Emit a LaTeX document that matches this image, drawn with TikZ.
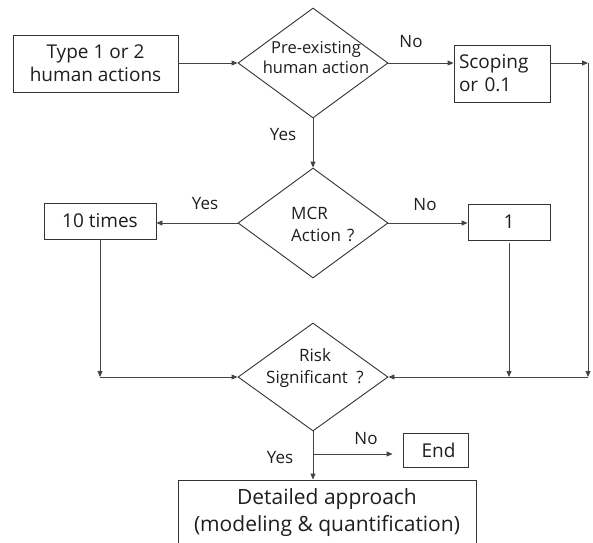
\documentclass[tikz,border=0pt]{standalone}
\usepackage{fontspec}
\setmainfont{Open Sans}
\usetikzlibrary{arrows.meta,shapes.geometric}

\definecolor{boxc}{HTML}{333333}
\definecolor{linec}{HTML}{444444}
\definecolor{txt}{HTML}{1E1E1E}

\tikzset{
  box/.style={draw=boxc, line width=0.9pt, inner sep=0pt, text=txt,
    font=\fontsize{19}{23}\selectfont, align=center},
  dia/.style={diamond, draw=boxc, line width=0.9pt, inner sep=0pt,
    minimum width=150pt, minimum height=110pt},
  dtext/.style={text=txt, inner sep=0pt, font=\fontsize{17}{22}\selectfont},
  arr/.style={draw=linec, line width=0.9pt, -{Triangle[length=6pt,width=5pt]}},
  lbl/.style={text=txt, inner sep=0pt, font=\fontsize{17}{20}\selectfont}
}

\begin{document}
\begin{tikzpicture}[x=1pt,y=-1pt]
\useasboundingbox (0,0) rectangle (593,542);
\clip (0,0) rectangle (593,542);

% process boxes
\node[box, minimum width=165pt, minimum height=57pt] (type) at (95.5,63.5)
  {Type 1 or 2\\human actions};
\node[box, minimum width=96pt, minimum height=57pt, text width=86pt, align=left]
  (scop) at (502,73.5) {Scoping\\or 0.1};
\node[box, minimum width=112pt, minimum height=36pt] (ten) at (100,221) {10 times};
\node[box, minimum width=82pt, minimum height=36pt] (one) at (509,222) {1};
\node[box, minimum width=65pt, minimum height=34pt] (endb) at (435.5,450) {\hspace*{6pt}End};
\node[box, minimum width=298pt, minimum height=66pt,
  font=\fontsize{21}{27}\selectfont] (det) at (327,513)
  {Detailed approach\\(modeling \& quantification)};

% decisions
\node[dia] (d1) at (313,63) {};
\node[dtext, align=center, font=\fontsize{16.5}{20}\selectfont] (t1) at (316,58) {Pre-existing\\human action};
\node[dia] (d2) at (313,223) {};
\node[dtext, align=left, anchor=west] (t2) at (291,224) {MCR\\Action\hspace{0.35em}?};
\node[dia, minimum height=108pt] (d3) at (313,377) {};
\node[dtext, align=center] (t3) at (315,368) {Risk\\Significant\hspace{0.5em}?};

% junction points
\coordinate (jn) at (0,377);
\coordinate (rTop) at (588,63);
\coordinate (rBot) at (588,377);
\coordinate (br) at (313,454);

% connectors
\draw[arr] (type.east |- d1.west) -- (d1.west);
\draw[arr] (d1.east) -- (d1.east -| scop.west);
\draw[arr] (scop.east |- rTop) -- (rTop);
\draw[arr] (rTop) -- (rBot);
\draw[arr] (rBot) -- (d3.east);
\draw[arr] (d1.south) -- (d2.north);
\draw[arr] (d2.west) -- (d2.west -| ten.east);
\draw[arr] (d2.east) -- (d2.east -| one.west);
\draw[arr] (ten.south) -- (ten.south |- jn);
\draw[arr] (ten.south |- jn) -- (d3.west);
\draw[arr, shorten <=3pt] (one.south) -- (one.south |- jn);
\draw[arr] (d3.south) -- (d3.south |- det.north);
\draw[arr, shorten >=10pt] (br) -- (br -| endb.west);

% branch labels
\node[lbl] (no1) at (411,42) {No};
\node[lbl] (yes1) at (283,135) {Yes};
\node[lbl] (yes2) at (205,204) {Yes};
\node[lbl] (no2) at (425,205) {No};
\node[lbl] (no3) at (366,439) {No};
\node[lbl] (yes3) at (280,458) {Yes};
\end{tikzpicture}
\end{document}
